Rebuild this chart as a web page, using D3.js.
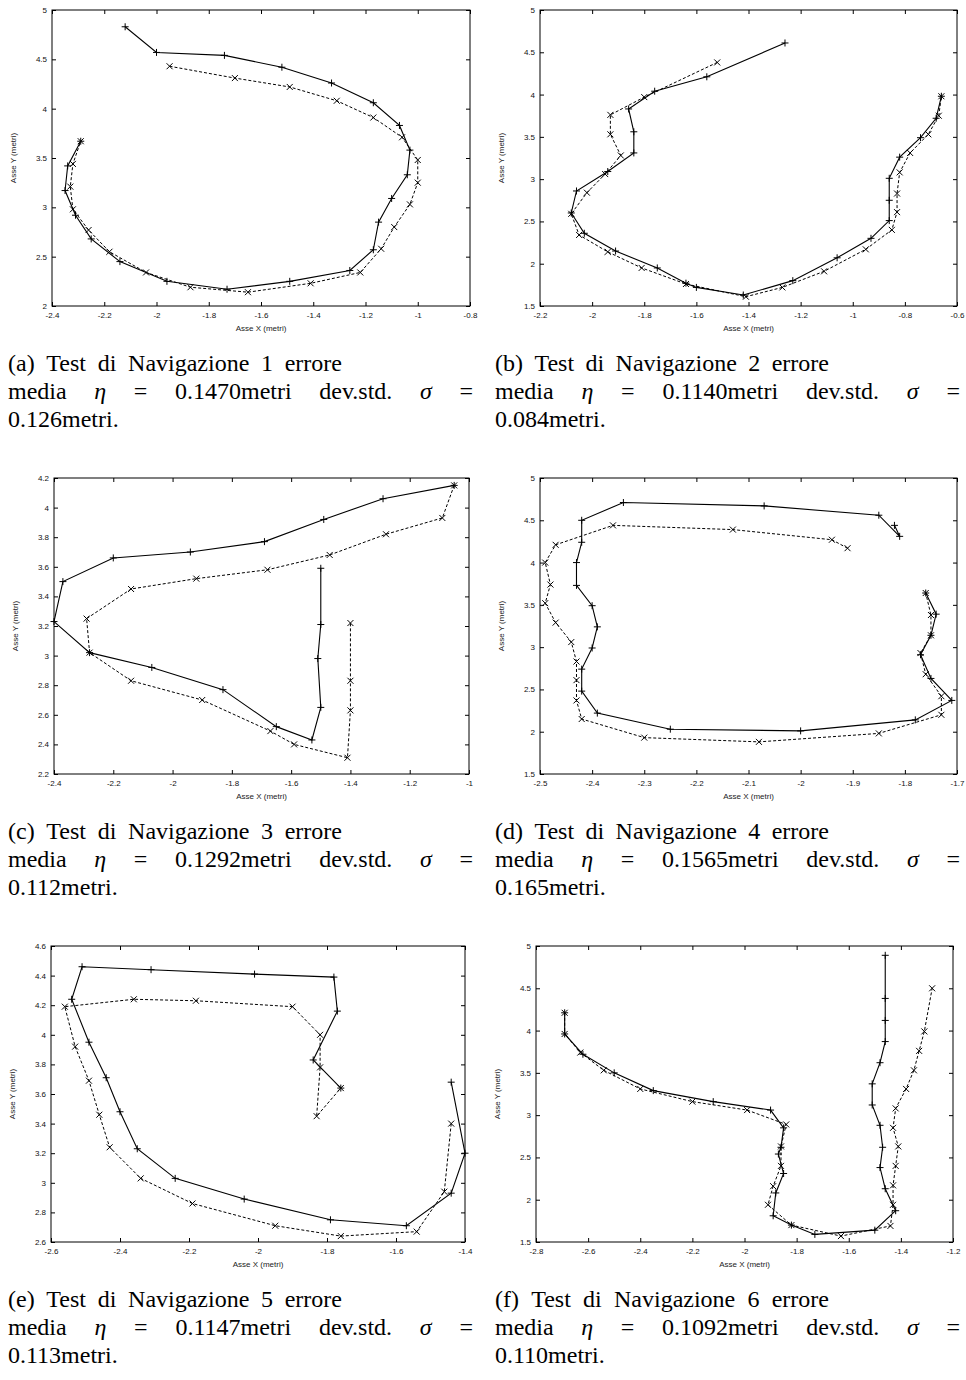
<!DOCTYPE html>
<html>
<head>
<meta charset="utf-8">
<script src="https://cdn.jsdelivr.net/npm/d3@7"></script>
<style>
  body { margin: 0; background: #fff; }
</style>
</head>
<body>
<script>
//trajectories: solid = "+" markers, dashed = "x" markers
var nav1Solid = [[-2.12,4.83],[-2.00,4.57],[-1.74,4.54],[-1.52,4.42],[-1.33,4.26],[-1.17,4.06],[-1.07,3.83],[-1.03,3.58],[-1.04,3.33],[-1.10,3.09],[-1.15,2.85],[-1.17,2.57],[-1.26,2.36],[-1.49,2.25],[-1.73,2.17],[-1.96,2.25],[-2.14,2.45],[-2.25,2.68],[-2.31,2.92],[-2.35,3.17],[-2.34,3.42],[-2.29,3.67]];
var nav1Dashed = [[-1.95,4.43],[-1.70,4.31],[-1.49,4.22],[-1.31,4.08],[-1.17,3.91],[-1.06,3.71],[-1.00,3.48],[-1.00,3.25],[-1.03,3.03],[-1.09,2.80],[-1.14,2.58],[-1.22,2.34],[-1.41,2.23],[-1.65,2.14],[-1.87,2.19],[-2.04,2.34],[-2.18,2.55],[-2.26,2.77],[-2.32,2.98],[-2.33,3.21],[-2.32,3.44],[-2.29,3.67]];

var nav2Solid = [[-1.26,4.61],[-1.56,4.21],[-1.76,4.04],[-1.86,3.83],[-1.84,3.56],[-1.84,3.31],[-1.94,3.09],[-2.06,2.86],[-2.08,2.60],[-2.03,2.36],[-1.91,2.15],[-1.75,1.95],[-1.64,1.77],[-1.60,1.72],[-1.42,1.63],[-1.23,1.80],[-1.06,2.07],[-0.93,2.30],[-0.86,2.51],[-0.86,2.75],[-0.86,3.01],[-0.82,3.26],[-0.74,3.49],[-0.68,3.72],[-0.66,3.98]];
var nav2Dashed = [[-1.52,4.38],[-1.80,3.97],[-1.93,3.76],[-1.93,3.53],[-1.89,3.28],[-1.95,3.06],[-2.02,2.84],[-2.08,2.59],[-2.05,2.34],[-1.94,2.14],[-1.81,1.95],[-1.64,1.76],[-1.41,1.61],[-1.27,1.72],[-1.11,1.91],[-0.95,2.17],[-0.85,2.40],[-0.83,2.61],[-0.83,2.83],[-0.82,3.08],[-0.78,3.31],[-0.71,3.53],[-0.67,3.75],[-0.66,3.98]];

var nav3Solid = [[-1.05,4.15],[-1.29,4.06],[-1.49,3.92],[-1.69,3.77],[-1.94,3.70],[-2.20,3.66],[-2.37,3.50],[-2.40,3.23],[-2.28,3.02],[-2.07,2.92],[-1.83,2.77],[-1.65,2.52],[-1.53,2.43],[-1.50,2.65],[-1.51,2.98],[-1.50,3.21],[-1.50,3.59]];
var nav3Dashed = [[-1.05,4.15],[-1.09,3.93],[-1.28,3.82],[-1.47,3.68],[-1.68,3.58],[-1.92,3.52],[-2.14,3.45],[-2.29,3.25],[-2.28,3.02],[-2.14,2.83],[-1.90,2.70],[-1.67,2.49],[-1.59,2.40],[-1.41,2.31],[-1.40,2.63],[-1.40,2.83],[-1.40,3.22]];

var nav4Solid = [[-1.82,4.44],[-1.81,4.31],[-1.85,4.56],[-2.07,4.67],[-2.34,4.71],[-2.42,4.50],[-2.42,4.24],[-2.43,4.00],[-2.43,3.73],[-2.40,3.49],[-2.39,3.24],[-2.40,2.99],[-2.42,2.74],[-2.42,2.48],[-2.39,2.22],[-2.25,2.03],[-2.00,2.01],[-1.78,2.14],[-1.71,2.37],[-1.75,2.63],[-1.77,2.91],[-1.75,3.14],[-1.74,3.39],[-1.76,3.64]];
var nav4Dashed = [[-1.91,4.17],[-1.94,4.27],[-2.13,4.39],[-2.36,4.44],[-2.47,4.21],[-2.49,4.00],[-2.48,3.74],[-2.49,3.52],[-2.47,3.29],[-2.44,3.06],[-2.43,2.83],[-2.43,2.61],[-2.43,2.37],[-2.42,2.15],[-2.30,1.93],[-2.08,1.88],[-1.85,1.98],[-1.73,2.20],[-1.73,2.42],[-1.76,2.68],[-1.77,2.93],[-1.75,3.14],[-1.75,3.38],[-1.76,3.64]];

var nav5Solid = [[-1.44,3.68],[-1.40,3.20],[-1.44,2.93],[-1.57,2.71],[-1.79,2.75],[-2.04,2.89],[-2.24,3.03],[-2.35,3.23],[-2.40,3.48],[-2.44,3.71],[-2.49,3.95],[-2.54,4.24],[-2.51,4.46],[-2.31,4.44],[-2.01,4.41],[-1.78,4.39],[-1.77,4.16],[-1.84,3.83],[-1.76,3.64]];
var nav5Dashed = [[-1.44,3.40],[-1.46,2.94],[-1.54,2.67],[-1.76,2.64],[-1.95,2.71],[-2.19,2.86],[-2.34,3.03],[-2.43,3.24],[-2.46,3.46],[-2.49,3.69],[-2.53,3.92],[-2.56,4.19],[-2.36,4.24],[-2.18,4.23],[-1.90,4.19],[-1.82,4.00],[-1.82,3.78],[-1.83,3.45],[-1.76,3.64]];

var nav6Solid = [[-2.69,4.21],[-2.69,3.96],[-2.62,3.72],[-2.50,3.50],[-2.35,3.29],[-2.12,3.16],[-1.90,3.06],[-1.85,2.85],[-1.86,2.62],[-1.87,2.54],[-1.85,2.31],[-1.88,2.08],[-1.89,1.81],[-1.82,1.70],[-1.73,1.59],[-1.50,1.64],[-1.42,1.87],[-1.46,2.13],[-1.48,2.38],[-1.47,2.62],[-1.48,2.88],[-1.51,3.12],[-1.51,3.37],[-1.48,3.62],[-1.46,3.87],[-1.46,4.12],[-1.46,4.38],[-1.46,4.89]];
var nav6Dashed = [[-2.69,4.21],[-2.69,3.96],[-2.63,3.74],[-2.54,3.53],[-2.40,3.31],[-2.20,3.16],[-1.99,3.06],[-1.84,2.89],[-1.86,2.63],[-1.86,2.40],[-1.89,2.16],[-1.91,1.94],[-1.82,1.70],[-1.63,1.57],[-1.44,1.69],[-1.43,1.94],[-1.43,2.17],[-1.42,2.40],[-1.41,2.63],[-1.43,2.85],[-1.42,3.08],[-1.38,3.31],[-1.35,3.53],[-1.33,3.76],[-1.31,3.99],[-1.28,4.50]];

//tick values for each panel
var nav1XTicks = [-2.4,-2.2,-2,-1.8,-1.6,-1.4,-1.2,-1,-0.8], nav1YTicks = [2,2.5,3,3.5,4,4.5,5];
var nav2XTicks = [-2.2,-2,-1.8,-1.6,-1.4,-1.2,-1,-0.8,-0.6], nav2YTicks = [1.5,2,2.5,3,3.5,4,4.5,5];
var nav3XTicks = [-2.4,-2.2,-2,-1.8,-1.6,-1.4,-1.2,-1], nav3YTicks = [2.2,2.4,2.6,2.8,3,3.2,3.4,3.6,3.8,4,4.2];
var nav4XTicks = [-2.5,-2.4,-2.3,-2.2,-2.1,-2,-1.9,-1.8,-1.7], nav4YTicks = [1.5,2,2.5,3,3.5,4,4.5,5];
var nav5XTicks = [-2.6,-2.4,-2.2,-2,-1.8,-1.6,-1.4], nav5YTicks = [2.6,2.8,3,3.2,3.4,3.6,3.8,4,4.2,4.4,4.6];
var nav6XTicks = [-2.8,-2.6,-2.4,-2.2,-2,-1.8,-1.6,-1.4,-1.2], nav6YTicks = [1.5,2,2.5,3,3.5,4,4.5,5];

//caption values
var captionLetters = ["a","b","c","d","e","f"];
var captionMeans = ["0.1470","0.1140","0.1292","0.1565","0.1147","0.1092"];
var captionDevs = ["0.126","0.084","0.112","0.165","0.113","0.110"];

drawFigure();

function drawFigure(){

  var width = 966,
    height = 1380;

  var svg = d3.select("body")
    .append("svg")
    .attr("width", width)
    .attr("height", height);

  //frame box [left, right, top, bottom] of every panel
  var panels = [
    {box: [52, 470, 10, 306], xt: nav1XTicks, yt: nav1YTicks, solid: nav1Solid, dashed: nav1Dashed},
    {box: [540, 957, 10, 306], xt: nav2XTicks, yt: nav2YTicks, solid: nav2Solid, dashed: nav2Dashed},
    {box: [54, 469, 478, 774], xt: nav3XTicks, yt: nav3YTicks, solid: nav3Solid, dashed: nav3Dashed},
    {box: [540, 957, 478, 774], xt: nav4XTicks, yt: nav4YTicks, solid: nav4Solid, dashed: nav4Dashed},
    {box: [51, 465, 946, 1242], xt: nav5XTicks, yt: nav5YTicks, solid: nav5Solid, dashed: nav5Dashed},
    {box: [536, 953, 946, 1242], xt: nav6XTicks, yt: nav6YTicks, solid: nav6Solid, dashed: nav6Dashed}
  ];

  panels.forEach(function(p, i){
    drawPanel(svg, p);
    var capX = (i % 2 === 0) ? 8 : 495;
    drawCaption(svg, capX, p.box[3] + 65, i);
  });
}

function fmt(v){
  return String(+v.toFixed(2));
}

function drawPanel(svg, p){
  var b = p.box;
  var x = d3.scaleLinear().domain([p.xt[0], p.xt[p.xt.length - 1]]).range([b[0], b[1]]);
  var y = d3.scaleLinear().domain([p.yt[0], p.yt[p.yt.length - 1]]).range([b[3], b[2]]);

  var g = svg.append("g");

  //gnuplot style: inward ticks on all four sides
  var bottom = g.append("g").attr("transform", "translate(0," + b[3] + ")")
    .call(d3.axisBottom(x).tickValues(p.xt).tickSize(-4).tickPadding(6).tickFormat(fmt));
  var top = g.append("g").attr("transform", "translate(0," + b[2] + ")")
    .call(d3.axisTop(x).tickValues(p.xt).tickSize(-4).tickFormat(""));
  var left = g.append("g").attr("transform", "translate(" + b[0] + ",0)")
    .call(d3.axisLeft(y).tickValues(p.yt).tickSize(-4).tickPadding(5).tickFormat(fmt));
  var right = g.append("g").attr("transform", "translate(" + b[1] + ",0)")
    .call(d3.axisRight(y).tickValues(p.yt).tickSize(-4).tickFormat(""));

  g.selectAll(".domain").remove();
  g.selectAll(".tick line").attr("stroke", "#000");
  g.selectAll(".tick text")
    .attr("font-family", "'Liberation Sans', Arial, sans-serif")
    .attr("font-size", 8)
    .attr("fill", "#111");
  [bottom, top, left, right].forEach(function(a){ a.attr("font-size", null).attr("font-family", null); });

  //frame
  g.append("rect")
    .attr("x", b[0]).attr("y", b[2])
    .attr("width", b[1] - b[0]).attr("height", b[3] - b[2])
    .attr("fill", "none").attr("stroke", "#000").attr("stroke-width", 1);

  //axis titles
  g.append("text")
    .attr("x", (b[0] + b[1]) / 2).attr("y", b[3] + 25)
    .attr("text-anchor", "middle")
    .attr("font-family", "'Liberation Sans', Arial, sans-serif")
    .attr("font-size", 8).attr("fill", "#222")
    .text("Asse X (metri)");
  g.append("text")
    .attr("transform", "translate(" + (b[0] - 36) + "," + ((b[2] + b[3]) / 2) + ") rotate(-90)")
    .attr("text-anchor", "middle")
    .attr("font-family", "'Liberation Sans', Arial, sans-serif")
    .attr("font-size", 8).attr("fill", "#222")
    .text("Asse Y (metri)");

  var line = d3.line().x(function(d){ return x(d[0]); }).y(function(d){ return y(d[1]); });

  //dashed trajectory with x markers
  g.append("path")
    .datum(p.dashed)
    .attr("d", line)
    .attr("fill", "none").attr("stroke", "#000").attr("stroke-width", 1)
    .attr("stroke-dasharray", "3,2");
  g.selectAll(".cross")
    .data(p.dashed)
    .enter()
    .append("path")
    .attr("class", "cross")
    .attr("transform", function(d){ return "translate(" + x(d[0]) + "," + y(d[1]) + ")"; })
    .attr("d", "M-3,-3L3,3M-3,3L3,-3")
    .attr("stroke", "#000").attr("stroke-width", 1);

  //solid trajectory with + markers
  g.append("path")
    .datum(p.solid)
    .attr("d", line)
    .attr("fill", "none").attr("stroke", "#000").attr("stroke-width", 1.1);
  g.selectAll(".plus")
    .data(p.solid)
    .enter()
    .append("path")
    .attr("class", "plus")
    .attr("transform", function(d){ return "translate(" + x(d[0]) + "," + y(d[1]) + ")"; })
    .attr("d", "M-3.5,0H3.5M0,-3.5V3.5")
    .attr("stroke", "#000").attr("stroke-width", 1);
}

//place words so the first and last touch x0 and x0 + w, like a justified line
function justify(g, words, x0, y, w){
  var els = words.map(function(tk){
    return g.append("text").attr("y", y)
      .attr("font-style", tk.it ? "italic" : null)
      .text(tk.t);
  });
  var lens = els.map(function(e){ return e.node().getComputedTextLength(); });
  var gap = (w - d3.sum(lens)) / (words.length - 1);
  var cx = x0;
  els.forEach(function(e, k){
    e.attr("x", cx);
    cx += lens[k] + gap;
  });
}

function drawCaption(svg, x0, y0, i){
  var g = svg.append("g")
    .attr("font-family", "'Liberation Serif', 'Times New Roman', serif")
    .attr("font-size", 24)
    .attr("fill", "#000");

  var title = ("(" + captionLetters[i] + ") Test di Navigazione " + (i + 1) + " errore")
    .split(" ").map(function(s){ return {t: s}; });
  justify(g, title, x0, y0, 334);

  justify(g, [
    {t: "media"}, {t: "\u03b7", it: true}, {t: "="},
    {t: captionMeans[i] + "metri"}, {t: "dev.std."}, {t: "\u03c3", it: true}, {t: "="}
  ], x0, y0 + 28, 465);

  g.append("text").attr("x", x0).attr("y", y0 + 56)
    .text(captionDevs[i] + "metri.");
}
</script>
</body>
</html>
